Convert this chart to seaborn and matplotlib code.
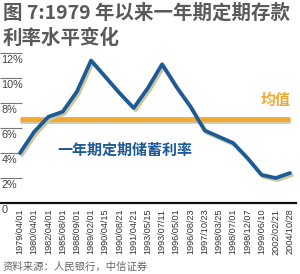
import numpy as np
import pandas as pd
import matplotlib
matplotlib.use("Agg")
import matplotlib.pyplot as plt
import matplotlib.patheffects as pe
import seaborn as sns

dates = ["1979/04/01", "1980/04/01", "1982/04/01", "1985/08/01", "1988/09/01",
         "1989/02/01", "1990/04/15", "1990/08/21", "1991/04/21", "1993/05/15",
         "1993/07/11", "1996/05/01", "1996/08/23", "1997/10/23", "1998/03/25",
         "1998/07/01", "1998/12/07", "1999/06/10", "2002/02/21", "2004/10/28"]
rates = [4.0, 5.7, 6.9, 7.3, 8.9, 11.4, 10.1, 8.8, 7.6, 9.2,
         11.1, 9.3, 7.7, 5.8, 5.3, 4.8, 3.6, 2.25, 2.0, 2.4]
ytick_vals = [2, 4, 6, 8, 10, 12]
ytick_labels = ["2%", "4%", "6%", "8%", "10%", "12%"]
title_lines = ["图 7:1979 年以来一年期定期存款", "利率水平变化"]
series_label = "一年期定期储蓄利率"
mean_label = "均值"
source = "资料来源：人民银行，中信证券"

sns.set_style("white")
plt.rcParams['font.family'] = ['Noto Sans CJK SC', 'DejaVu Sans']

df = pd.DataFrame({"date": dates, "rate": rates})
mean_val = float(np.mean(rates))

fig = plt.figure(figsize=(3.0, 2.74), dpi=100)
ax = fig.add_axes([0.0, 71 / 274, 296 / 300, (203 - 51) / 274])

BLUE = "#1c5a98"
ORANGE = "#f0a830"
SHADOW = "#cbc79e"

sns.lineplot(data=df, x="date", y="rate", ax=ax, color=BLUE, lw=2.7, sort=False,
             zorder=3,
             path_effects=[pe.SimpleLineShadow(offset=(1.3, -1.5), shadow_color=SHADOW, alpha=1),
                           pe.Normal()])

# mean line
ax.plot([dates[0], dates[-1]], [mean_val, mean_val], color=ORANGE, lw=3.4,
        solid_capstyle="butt", zorder=2,
        path_effects=[pe.SimpleLineShadow(offset=(0, -1.6), shadow_color="#cfc8a8", alpha=1),
                      pe.Normal()])

ax.set_xlim(-20 / 14.21, (296 - 20) / 14.21)
ax.set_ylim(0, 12.16)
ax.set_xlabel("")
ax.set_ylabel("")

for s in ["top", "right", "left"]:
    ax.spines[s].set_visible(False)
ax.spines["bottom"].set_linewidth(1.6)
ax.spines["bottom"].set_color("#111111")

ax.set_yticks(ytick_vals)
ax.tick_params(axis="y", direction="in", length=16, width=0.8, color="#777777",
               labelleft=False, left=True)
ax.tick_params(axis="x", direction="out", length=2.5, width=0.7, color="#111111",
               pad=1.5)
ax.set_xticks(range(len(dates)))
ax.set_xticklabels(dates, rotation=90, fontsize=6.6, color="#333333",
                   family="Liberation Sans")

for v, lbl in zip(ytick_vals + [0], ytick_labels + ["0"]):
    ax.annotate(lbl, xy=(0, v), xycoords=("axes fraction", "data"),
                xytext=(1.0, -1.4), textcoords="offset points",
                ha="left", va="top", fontsize=7.8, color="#444444",
                family="Liberation Sans", annotation_clip=False)

ax.text(2.6, 4.24, series_label, color=BLUE, fontsize=10.8, va="center", ha="left",
        fontweight="bold")
ax.text(16.9, 8.24, mean_label, color=ORANGE, fontsize=10.8, va="center", ha="left",
        fontweight="bold")

fig.text(0.01, 1 - 13 / 274, title_lines[0], fontsize=14, fontweight="bold",
         color="#5a5a5a", va="center", ha="left")
fig.text(0.01, 1 - 38 / 274, title_lines[1], fontsize=14, fontweight="bold",
         color="#5a5a5a", va="center", ha="left")
fig.text(0.01, 1 - 267 / 274, source, fontsize=7.5, color="#666666",
         va="center", ha="left")

fig.savefig("out.png", dpi=100)
